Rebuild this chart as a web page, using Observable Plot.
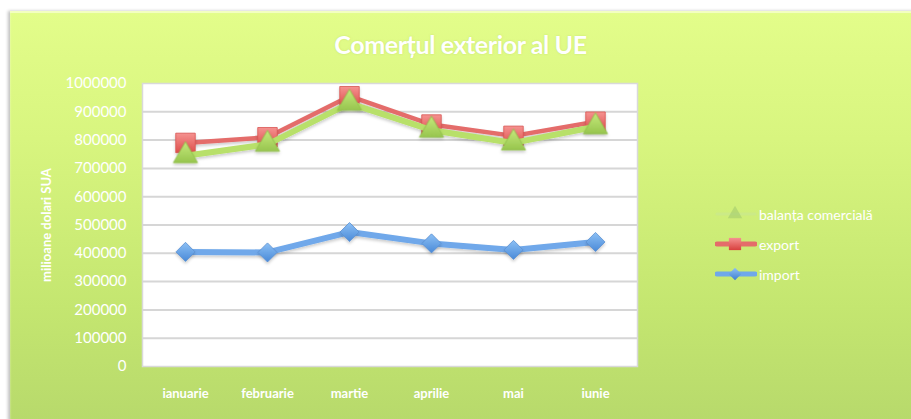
<!DOCTYPE html>
<html>
<head>
<meta charset="utf-8">
<script src="https://cdn.jsdelivr.net/npm/d3@7"></script>
<script src="https://cdn.jsdelivr.net/npm/@observablehq/plot@0.6"></script>
<style>
  html, body { margin: 0; padding: 0; background: #ffffff; }
  #wrap { position: relative; width: 911px; height: 419px; overflow: hidden; font-family: Lato, "Open Sans", sans-serif; }
  #bg { position: absolute; left: 10px; top: 11px; width: 910px; height: 420px;
        background: linear-gradient(to bottom, #e3fd8a 0%, #d8f57f 30%, #c4e670 70%, #b6d86b 100%);
        box-shadow: -2px 0 3px rgba(0,0,0,0.25), 0 -1px 2px rgba(255,255,255,0.6) inset; border-top: 2px solid #f3ffc0; }
  #title { position: absolute; left: 10px; right: 0; top: 29px; text-align: center; color: #ffffff;
           font: bold 25px Lato, sans-serif; letter-spacing: -0.4px; text-shadow: 0 0 2px rgba(180,210,100,0.6); }
  #chart { position: absolute; left: 0; top: 0; }
  #legend { position: absolute; left: 715px; top: 199px; color: #ffffff; font: 14px Lato, sans-serif; }
  #legend .row { display: flex; align-items: center; height: 30px; }
  #legend svg { margin-right: 2px; }
</style>
</head>
<body>
<div id="wrap">
  <div id="bg"></div>
  <div id="title"></div>
  <div id="chart"></div>
  <div id="legend"></div>
</div>
<script>
// ---- data ----
const titleText = "Comerțul exterior al UE";
const yTitle = "milioane dolari SUA";
const months = ["ianuarie", "februarie", "martie", "aprilie", "mai", "iunie"];
const exportVals = [790000, 810000, 955000, 855000, 815000, 865000];
const balantaVals = [745000, 785000, 930000, 835000, 790000, 847000];
const importVals = [405000, 403000, 475000, 435000, 412000, 440000];
const yTicks = [0, 100000, 200000, 300000, 400000, 500000, 600000, 700000, 800000, 900000, 1000000];
const seriesNames = ["balanța comercială", "export", "import"];

const toRows = (vals) => months.map((m, i) => ({month: m, value: vals[i]}));
const exp = toRows(exportVals);
const bal = toRows(balantaVals);
const imp = toRows(importVals);

document.getElementById("title").textContent = titleText;

const chart = Plot.plot({
  width: 911,
  height: 419,
  marginLeft: 142,
  marginRight: 274,
  marginTop: 83,
  marginBottom: 53,
  style: { background: "transparent", fontFamily: "Lato, sans-serif", color: "#ffffff", overflow: "visible" },
  x: { type: "point", domain: months, padding: 0.5, label: null },
  y: { domain: [0, 1000000], ticks: yTicks, label: null },
  marks: [
    Plot.frame({ fill: "#ffffff", stroke: "#d9d9d9", strokeWidth: 1.5 }),
    Plot.ruleY(yTicks.slice(1, -1), { stroke: "#d6d6d6", strokeWidth: 2 }),
    Plot.axisY({ ticks: yTicks, tickFormat: d3.format("d"), tickSize: 0, tickPadding: 16, fontSize: 15, fill: "#ffffff", label: null }),
    Plot.axisX({ tickSize: 0, tickPadding: 22, fontSize: 13, fontWeight: "bold", fill: "#ffffff", label: null }),
    Plot.text([yTitle], { frameAnchor: "left", dx: -96, rotate: -90, textAnchor: "middle", fill: "#ffffff", fontSize: 13, fontWeight: "bold" }),
    // import
    Plot.line(imp, { x: "month", y: "value", stroke: "#6fa8ea", strokeWidth: 6, className: "shadowed" }),
    Plot.dot(imp, { x: "month", y: "value", symbol: "diamond2", r: 8.6, fill: "url(#gBlue)", stroke: "#5b8fd0", strokeWidth: 0.8, className: "shadowed" }),
    // export
    Plot.line(exp, { x: "month", y: "value", stroke: "#e46c6a", strokeWidth: 4.5, className: "shadowed" }),
    Plot.dot(exp, { x: "month", y: "value", symbol: "square", r: 11, fill: "url(#gRed)", stroke: "#d85450", strokeWidth: 0.8, className: "shadowed" }),
    // balanta
    Plot.line(bal, { x: "month", y: "value", stroke: "#b8e06a", strokeWidth: 6, className: "shadowed" }),
    Plot.dot(bal, { x: "month", y: "value", symbol: "triangle", r: 9, fill: "url(#gGreen)", stroke: "#8fbf4a", strokeWidth: 0.8, className: "shadowed" })
  ]
});

// gradients & shadows
const svg = d3.select(chart);
const defs = svg.insert("defs", ":first-child");
function grad(id, c1, c2) {
  const g = defs.append("linearGradient").attr("id", id).attr("x1", 0).attr("y1", 0).attr("x2", 0).attr("y2", 1);
  g.append("stop").attr("offset", "0%").attr("stop-color", c1);
  g.append("stop").attr("offset", "100%").attr("stop-color", c2);
}
grad("gRed", "#f59290", "#de4f4c");
grad("gGreen", "#c6ea7c", "#97c54e");
grad("gBlue", "#8cc0f5", "#4a8ad8");
const f = defs.append("filter").attr("id", "sh").attr("x", "-20%").attr("y", "-20%").attr("width", "140%").attr("height", "160%");
f.append("feDropShadow").attr("dx", 0).attr("dy", 2).attr("stdDeviation", 1.5).attr("flood-color", "#000").attr("flood-opacity", 0.2);
svg.selectAll(".shadowed").attr("filter", "url(#sh)");
document.getElementById("chart").appendChild(chart);

// legend
const legend = d3.select("#legend");
const legendItems = [
  { name: seriesNames[0], stroke: "rgba(200,230,150,0.5)", sym: d3.symbolTriangle, size: 90, fill: "rgba(160,200,110,0.55)", sw: 3 },
  { name: seriesNames[1], stroke: "#e46c6a", sym: d3.symbolSquare, size: 150, fill: "url(#gRedL)", sw: 5 },
  { name: seriesNames[2], stroke: "#6fa8ea", sym: d3.symbolDiamond2, size: 100, fill: "url(#gBlueL)", sw: 5 }
];
legendItems.forEach((it, i) => {
  const row = legend.append("div").attr("class", "row");
  const s = row.append("svg").attr("width", 42).attr("height", 24);
  if (i === 1) {
    const g = s.append("defs").append("linearGradient").attr("id", "gRedL").attr("x1", 0).attr("y1", 0).attr("x2", 0).attr("y2", 1);
    g.append("stop").attr("offset", "0%").attr("stop-color", "#f59290");
    g.append("stop").attr("offset", "100%").attr("stop-color", "#d8403e");
  }
  if (i === 2) {
    const g = s.append("defs").append("linearGradient").attr("id", "gBlueL").attr("x1", 0).attr("y1", 0).attr("x2", 0).attr("y2", 1);
    g.append("stop").attr("offset", "0%").attr("stop-color", "#8cc0f5");
    g.append("stop").attr("offset", "100%").attr("stop-color", "#3f7fd0");
  }
  s.append("line").attr("x1", 2).attr("x2", 40).attr("y1", 12).attr("y2", 12).attr("stroke", it.stroke).attr("stroke-width", it.sw).attr("stroke-linecap", "round");
  s.append("path").attr("d", d3.symbol(it.sym, it.size)()).attr("transform", "translate(20,12)").attr("fill", it.fill);
  row.append("span").text(it.name);
});
</script>
</body>
</html>
